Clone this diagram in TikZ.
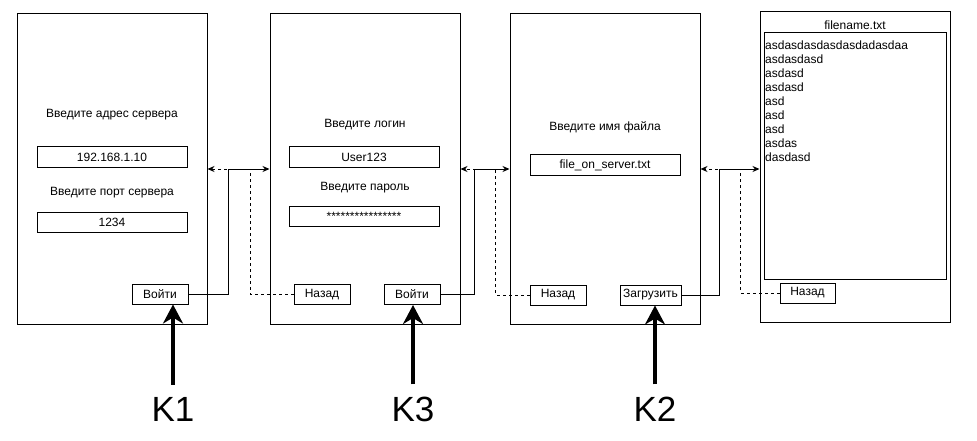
\documentclass[tikz,border=0pt]{standalone}
\usepackage{fontspec}
\setmainfont{Liberation Sans}
\usetikzlibrary{arrows.meta}

\tikzset{
  screen/.style={draw, line width=1pt, minimum width=190pt, minimum height=310pt, inner sep=0pt},
  field/.style={draw, line width=1pt, minimum width=150pt, minimum height=20pt, inner sep=0pt},
  btn/.style={draw, line width=1pt, minimum height=20pt, minimum width=56pt, inner sep=1pt},
  go/.style={line width=1pt, -{Stealth[length=7pt,width=6pt]}},
  back/.style={go, dashed},
  press/.style={line width=4.5pt, -{Stealth[length=19pt,width=20pt,inset=6pt]}},
  key/.style={font=\fontsize{35}{40}\selectfont, inner sep=0pt}
}

\begin{document}
\begin{tikzpicture}[x=1pt, y=-1pt, every node/.style={font=\fontsize{12}{14}\selectfont}]
\useasboundingbox (0,0) rectangle (977,441);
% Screens
\node[screen] (scr1) at (112,169) {};
\node[screen] (scr2) at (365,169) {};
\node[screen] (scr3) at (605,169) {};
\node[screen] (scr4) at (855,167) {};
% Server screen
\node (addr) at (112,115) {Введите адрес сервера};
\node[field] (ip) at (112,157) {192.168.1.10};
\node (port) at (112,193) {Введите порт сервера};
\node[field] (portval) at (112,222.5) {1234};
\node[btn] (enter1) at (160,294) {Войти};
% Login screen
\node (login) at (365,125) {Введите логин};
\node[field] (user) at (364,157) {User123};
\node (pass) at (365,188) {Введите пароль};
\node[field] (pwd) at (364,216) {****************};
\node[btn] (back2) at (322,294.5) {Назад};
\node[btn] (enter2) at (412,294.5) {Войти};
% File screen
\node (fname) at (605,127) {Введите имя файла};
\node[field] (srvfile) at (605,165) {file\_on\_server.txt};
\node[btn] (back3) at (558,295) {Назад};
\node[btn, minimum width=61pt] (upload) at (650.5,295) {Загрузить};
% Content screen
\node (title) at (855,25) {filename.txt};
\node[draw, line width=1pt, minimum width=182pt, minimum height=246pt, inner sep=0pt] (content) at (855,156) {};
\node[anchor=north west, align=left, inner sep=0pt] (lines) at (765,41) {asdasdasdasdasdadasdaa\\asdasdasd\\asdasd\\asdasd\\asd\\asd\\asd\\asdas\\dasdasd};
\node[btn, minimum width=55pt] (back4) at (807.5,293) {Назад};
% Transitions
\draw[go] (enter1.east) -| ([xshift=-41pt]scr2.west) -- (scr2.west);
\draw[back] (back2.west) -| ([xshift=43pt]scr1.east) -- (scr1.east);
\draw[go] (enter2.east) -| ([xshift=-35pt]scr3.west) -- (scr3.west);
\draw[back] (back3.west) -| ([xshift=35pt]scr2.east) -- (scr2.east);
\draw[go] (upload.east) -| ([xshift=-40pt]scr4.west |- scr3.east) -- (scr4.west |- scr3.east);
\draw[back] (back4.west) -| ([xshift=40pt]scr3.east) -- (scr3.east);
% Key presses
\node[key, anchor=base] (k1) at (173,421) {K1};
\node[key, anchor=base] (k3) at (413,421) {K3};
\node[key, anchor=base] (k2) at (655,421) {K2};
\draw[press] ([yshift=12pt]k1.north) -- (k1.north |- enter1.south);
\draw[press] ([yshift=12pt]k3.north) -- (k3.north |- enter2.south);
\draw[press] ([yshift=12pt]k2.north) -- (k2.north |- upload.south);
\end{tikzpicture}
\end{document}
